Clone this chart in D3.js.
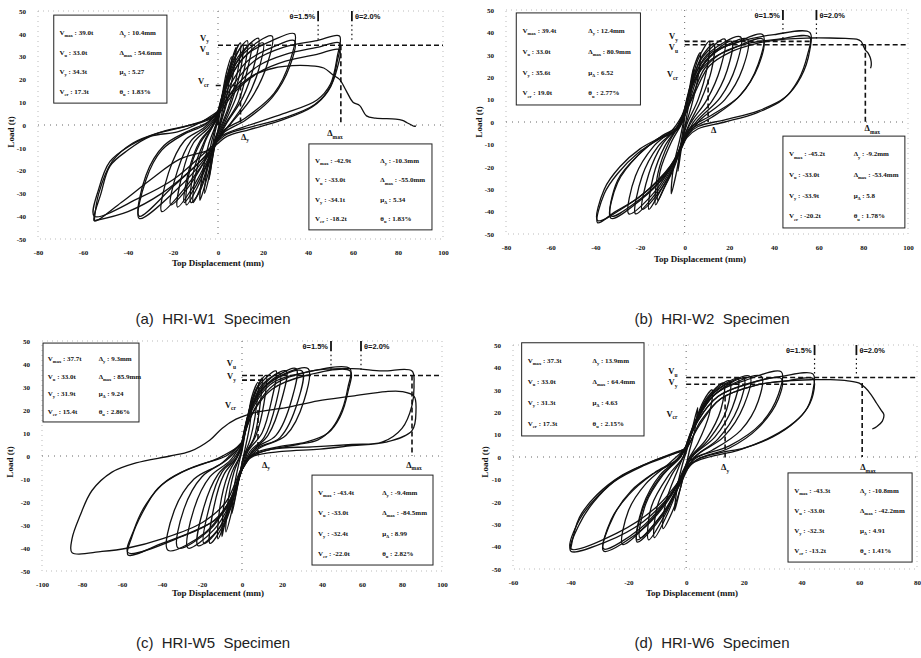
<!DOCTYPE html>
<html>
<head>
<meta charset="utf-8">
<script src="https://cdn.jsdelivr.net/npm/d3@7"></script>
<style>
  body { margin: 0; background: #fff; }
  svg text { font-family: "Liberation Serif", "Times New Roman", serif; fill: #111; }
</style>
</head>
<body>
<svg id="chart" width="921" height="658"></svg>
<script>
// tick labels
var xTicks80 = [-80, -60, -40, -20, 0, 20, 40, 60, 80, 100];
var xTicks100 = [-100, -80, -60, -40, -20, 0, 20, 40, 60, 80, 100];
var xTicks60 = [-60, -40, -20, 0, 20, 40, 60, 80];
var yTicks = [-50, -40, -30, -20, -10, 0, 10, 20, 30, 40, 50];

var captions = ["(a)  HRI-W1  Specimen", "(b)  HRI-W2  Specimen", "(c)  HRI-W5  Specimen", "(d)  HRI-W6  Specimen"];

// ---- HRI-W1 : cycles [displacement mm, load t] ----
var w1Cycles = [
  [[0,0],[2,12],[4,22],[3.2,14],[1.5,4],[0,-2],[-2,-12],[-4,-24],[-3.2,-15],[-1.5,-4],[0,2]],
  [[0,2],[2,14],[4,24],[6,30],[5,20],[3,8],[0,-3],[-2,-12],[-4,-23],[-6,-30],[-5,-20],[-3,-8],[0,3]],
  [[0,3],[3,17],[6,28],[8,34],[7,24],[4,10],[1,0],[-1,-6],[-3,-16],[-6,-27],[-8,-33],[-7,-22],[-4,-8],[-1,0],[0,3]],
  [[0,3],[3,16],[7,28],[11,35],[10,24],[6,10],[2,0],[-1,-6],[-4,-17],[-8,-29],[-12,-34],[-11,-21],[-6,-7],[-2,0],[0,3]],
  [[0,4],[3,17],[6,28],[10,36],[9,25],[6,12],[2,1],[-1,-5],[-4,-16],[-8,-28],[-11,-34],[-10,-22],[-6,-8],[-2,0],[0,4]],
  [[0,5],[3,17],[7,29],[13,37],[12,26],[8,12],[3,1],[0,-5],[-4,-15],[-9,-27],[-14,-35],[-13,-22],[-8,-8],[-3,-1],[0,5]],
  [[0,4],[3,15],[8,27],[15,36],[13,24],[9,10],[3,0],[0,-6],[-4,-15],[-10,-27],[-15,-34],[-13,-20],[-8,-7],[-3,-1],[0,4]],
  [[0,5],[4,19],[9,30],[18,38],[16,26],[11,12],[4,1],[0,-6],[-5,-16],[-11,-27],[-18,-36],[-16,-22],[-11,-8],[-4,-1],[0,5]],
  [[0,5],[4,17],[10,28],[20,36],[18,24],[12,10],[5,0],[0,-6],[-6,-16],[-13,-27],[-21,-35],[-18,-20],[-12,-7],[-5,-1],[0,5]],
  [[0,6],[4,19],[11,31],[24,39],[22,27],[15,12],[6,1],[0,-6],[-6,-16],[-15,-28],[-25,-38],[-22,-21],[-15,-7],[-6,-1],[0,6]],
  [[0,6],[5,20],[13,31],[24,37],[34,40],[32,28],[25,14],[12,3],[3,-2],[0,-6],[-6,-15],[-18,-28],[-35,-41],[-32,-24],[-25,-11],[-15,-4],[-6,0],[0,6]],
  [[0,5],[5,17],[13,28],[24,34],[34,37],[32,26],[24,12],[12,2],[3,-3],[0,-7],[-8,-16],[-20,-27],[-35,-40],[-32,-22],[-24,-9],[-14,-3],[-5,1],[0,5]],
  [[0,6],[7,18],[16,28],[29,34],[44,37],[54,39],[53,30],[50,18],[44,11],[29,5],[14,0],[4,-3.5],[0,-6],[-2,-10],[-17,-15],[-30,-24],[-43,-34],[-55,-42],[-52,-30],[-48,-18],[-40,-11],[-30,-5],[-18,-3],[-8,1],[0,6]],
  [[0,5],[8,17],[18,26],[30,31],[44,34],[54,36],[53,28],[50,17],[43,9],[29,3],[14,-1],[4,-4],[0,-7],[-8,-14],[-20,-24],[-35,-32],[-55,-40],[-53,-28],[-48,-16],[-39,-9],[-28,-4],[-16,-1],[-6,2],[0,5]],
  [[0,4],[8,15],[18,23],[30,28],[44,31],[54,33],[53,25],[49,15],[42,8],[28,2],[14,-2],[4,-5],[0,-8],[-10,-18],[-25,-30],[-40,-38],[-55,-42]]
];
var w1Final = [[-55,-42],[-53,-30],[-47,-16],[-38,-8],[-25,-3],[-12,0],[-3,3],[2,9],[8,16],[16,22],[25,25],[33,26],[40,26],[47,25],[51,22],[54,20],[57,15],[60,10],[63,8.5],[66,4],[70,3],[79,2.6],[82,2],[84,1],[86,0],[87,-0.5],[88,-0.5]];

// ---- HRI-W2 ----
var w2Cycles = [
  [[0,2],[2,12],[4,24],[3,14],[1,3],[0,-3],[-1.5,-12],[-3,-22],[-2,-12],[-0.5,-2],[0,2]],
  [[0,3],[2,14],[4,24],[7,31],[6,20],[3,7],[0,-3],[-2,-13],[-4,-24],[-6,-32],[-5,-20],[-2,-7],[0,3]],
  [[0,4],[3,17],[6,28],[11,36],[10,24],[6,10],[1,-1],[-1,-8],[-5,-20],[-9,-29],[-12,-35],[-11,-22],[-6,-9],[-1,0],[0,4]],
  [[0,3],[3,16],[7,28],[13,35],[12,23],[7,9],[2,-1],[-1,-9],[-5,-21],[-10,-31],[-13,-37],[-12,-23],[-7,-9],[-2,-1],[0,3]],
  [[0,5],[3,17],[8,29],[18,37],[16,24],[10,10],[3,0],[-1,-8],[-5,-20],[-11,-31],[-16,-39],[-14,-24],[-9,-11],[-3,-2],[0,5]],
  [[0,4],[4,17],[10,28],[21,36],[19,23],[12,9],[4,0],[0,-8],[-5,-20],[-12,-32],[-19,-39],[-16,-23],[-10,-10],[-3,-2],[0,4]],
  [[0,6],[4,19],[10,30],[25,38],[23,25],[16,11],[6,1],[0,-7],[-5,-19],[-13,-32],[-22,-41],[-19,-24],[-12,-11],[-4,-3],[0,6]],
  [[0,5],[4,18],[11,29],[28,37],[26,24],[18,10],[7,1],[0,-8],[-6,-20],[-15,-33],[-25,-41],[-22,-24],[-14,-11],[-5,-3],[0,5]],
  [[0,6],[4,20],[12,31],[22,35],[35,39],[33,26],[25,12],[12,3],[2,-3],[-1,-10],[-8,-23],[-20,-35],[-33,-43],[-30,-26],[-20,-14],[-10,-6],[-3,-2],[0,6]],
  [[0,5],[4,18],[12,28],[22,33],[35,37],[33,25],[24,11],[12,2],[2,-4],[-2,-12],[-10,-25],[-22,-36],[-33,-42],[-30,-27],[-21,-15],[-11,-7],[-3,-3],[0,5]],
  [[0,3],[3,12],[7.5,24],[15,32],[25,36],[40,39],[56,40],[56,32],[52,20],[45,11],[33,5],[18,1],[6,-2],[1.5,-5.5],[-1.5,-11.5],[-6,-19],[-12,-26],[-21,-34],[-31,-40],[-39,-45],[-36,-32],[-30,-23],[-21,-14],[-12,-8],[-4,-4],[0,3]],
  [[0,3],[4,13],[9,24],[17,31],[28,35],[42,37],[56,38],[55,30],[51,19],[44,10],[32,4],[18,0],[6,-3],[1,-7],[-2,-13],[-8,-22],[-16,-30],[-27,-38],[-39,-44],[-36,-30],[-29,-20],[-20,-12],[-11,-7],[-3,-3],[0,3]]
];
var w2Final = [[0,3],[5,14],[11,25],[20,31],[32,35],[45,37],[56,37.5],[65,37.5],[72,37.3],[77,37],[79,36],[80,34],[81,32],[82,31],[83,29],[83.5,27],[83.5,25],[83.2,24]];

// ---- HRI-W5 ----
var w5Cycles = [
  [[0,2],[2,12],[5,25],[4,14],[1.5,3],[0,-3],[-2,-12],[-5,-25],[-4,-14],[-1.5,-3],[0,2]],
  [[0,3],[3,17],[5,26],[8,32],[7,20],[4,7],[1,0],[-1,-8],[-4,-20],[-8,-33],[-7,-20],[-4,-7],[-1,0],[0,3]],
  [[0,4],[3,17],[7,28],[10,34],[9,22],[6,8],[1,0],[-1,-8],[-5,-21],[-9,-31],[-10,-35],[-9,-21],[-5,-7],[-1,0],[0,4]],
  [[0,4],[3,18],[7,29],[12,35],[11,23],[7,9],[2,1],[-1,-7],[-5,-20],[-9,-30],[-12,-36],[-11,-22],[-7,-8],[-2,0],[0,4]],
  [[0,5],[3,18],[8,30],[17,37],[15,25],[10,10],[3,2],[0,-6],[-5,-19],[-10,-31],[-16,-38],[-14,-22],[-9,-8],[-3,-1],[0,5]],
  [[0,5],[4,18],[9,29],[19,36],[17,23],[11,8],[4,2],[0,-6],[-5,-19],[-11,-31],[-19,-38],[-16,-21],[-10,-7],[-3,-1],[0,5]],
  [[0,5],[4,19],[10,31],[22,37],[20,25],[13,9],[5,2],[0,-6],[-5,-19],[-12,-32],[-22,-39],[-19,-22],[-12,-8],[-4,-1],[0,5]],
  [[0,6],[4,20],[12,31],[27,38],[25,25],[17,9],[6,3],[0,-6],[-5,-19],[-14,-32],[-27,-40],[-24,-23],[-16,-9],[-6,-2],[0,6]],
  [[0,5],[4,19],[11,30],[30,37],[28,24],[19,8],[7,3],[0,-6],[-6,-19],[-16,-32],[-32,-40],[-29,-23],[-20,-9],[-8,-2],[0,5]],
  [[0,6],[5,21],[14,32],[33,38],[31,24],[22,9],[8,3],[0,-6],[-6,-19],[-18,-33],[-37,-41],[-34,-24],[-24,-10],[-10,-3],[0,6]],
  [[0,6],[5,20],[14,31],[30,36],[54,38],[53,30],[50,20],[45,12],[38,7],[28,5],[15,3],[5,0],[0,-5],[-4,-17],[-12,-27],[-25,-33],[-40,-38],[-57,-43],[-55,-35],[-50,-25],[-42,-14],[-30,-7],[-18,-3],[-8,0],[0,6]],
  [[0,5],[5,18],[15,29],[32,35],[54,37],[53,28],[49,17],[43,10],[32,6],[18,4],[6,1],[0,-6],[-5,-18],[-14,-28],[-30,-35],[-57,-42],[-54,-32],[-48,-21],[-38,-11],[-25,-5],[-12,-1],[0,5]]
];
var w5Final = [[0,6],[6,20],[16,31],[35,37],[55,38],[70,37],[85,37],[86,31],[85,22],[80,12],[70,6],[55,5],[35,4],[15,3],[5,0],[0,-5],[-8,-20],[-20,-29],[-40,-36],[-57,-40],[-70,-41.5],[-85,-42],[-85,-36],[-81,-26],[-75,-15],[-65,-7],[-53,-3],[-36,0],[-26,2],[-16,7],[-10,12],[-3,16],[7,19],[22,21],[38,24],[55,26],[72,28],[80,28],[86,26],[87,20],[85,11],[72,6],[55,4.5],[39,3],[20,2],[6,0],[0,-4]];

// ---- HRI-W6 ----
var w6Cycles = [
  [[0,2],[2,12],[4,22],[3,12],[1,2],[0,-4],[-2,-14],[-4,-24],[-3,-13],[-1,-2],[0,2]],
  [[0,3],[3,15],[6,25],[9,30],[8,19],[4,6],[0,-3],[-2,-14],[-5,-25],[-8,-32],[-7,-20],[-3,-6],[0,3]],
  [[0,4],[3,15],[7,26],[13,33],[12,21],[7,8],[1,-1],[-2,-11],[-6,-24],[-11,-36],[-10,-22],[-5,-8],[-1,0],[0,4]],
  [[0,4],[3,15],[8,27],[15,34],[14,21],[8,8],[2,0],[-2,-11],[-7,-25],[-13,-37],[-12,-22],[-6,-8],[-1,0],[0,4]],
  [[0,5],[4,17],[9,28],[18,35],[16,22],[10,9],[2,0],[-2,-11],[-8,-26],[-17,-38],[-15,-23],[-9,-9],[-2,0],[0,5]],
  [[0,5],[4,17],[10,28],[20,35],[18,22],[11,8],[3,0],[-2,-12],[-8,-25],[-16,-36],[-14,-21],[-8,-8],[-2,0],[0,5]],
  [[0,5],[4,18],[10,29],[22,36],[20,23],[13,9],[3,0],[-2,-11],[-8,-25],[-17,-37],[-15,-22],[-9,-8],[-2,0],[0,5]],
  [[0,4],[4,17],[10,28],[26,36],[25,25],[19,12],[9,3],[1,-2],[-4,-14],[-12,-28],[-22,-39],[-20,-24],[-14,-12],[-6,-3],[0,4]],
  [[0,5],[4,18],[11,29],[20,34],[33,38],[32,28],[26,15],[15,5],[4,0],[0,-5],[-5,-17],[-14,-31],[-28.6,-42],[-26,-28],[-20,-17],[-12,-8],[-4,-2],[0,5]],
  [[0,4],[4,16],[11,27],[20,32],[33,35],[32,26],[25,13],[15,4],[4,-1],[0,-6],[-6,-18],[-16,-32],[-28.6,-41],[-25,-26],[-19,-15],[-11,-7],[-3,-1],[0,4]],
  [[0,4],[4,16],[11,27],[22,33],[33,36],[44,37],[44,30],[42,22],[38,16],[30,9],[20,4],[12,2],[4,-1],[0,-5],[-5,-16],[-15,-29],[-28,-38],[-40,-42],[-37,-30],[-32,-20],[-25,-11],[-15,-4],[-5,1],[0,4]],
  [[0,3],[5,15],[12,26],[24,32],[35,34],[44,35],[44,28],[41,20],[36,14],[28,8],[18,3],[8,0],[2,-3],[-2,-10],[-10,-22],[-24,-34],[-40,-41],[-37,-28],[-31,-18],[-23,-9],[-12,-2],[-3,2],[0,3]]
];
var w6Final = [[-40,-41],[-37,-27],[-31,-17],[-22,-8],[-12,-2],[-4,2],[0,4],[5,16],[12,26],[24,32],[35,34],[44,34.5],[50,34.5],[56,34],[60,33],[62,31],[64,28],[66,24],[67.5,21],[68.5,19],[68,16],[66,13.5],[64.5,12.5]];

// ---- summary boxes (positive / negative side) ----
var w1InfoPos = [["V_max : 39.0t", "Δ_y : 10.4mm"], ["V_u : 33.0t", "Δ_max : 54.6mm"], ["V_y : 34.3t", "μ_Δ : 5.27"], ["V_cr : 17.3t", "θ_u : 1.83%"]];
var w1InfoNeg = [["V_max : -42.9t", "Δ_y : -10.3mm"], ["V_u : -33.0t", "Δ_max : -55.0mm"], ["V_y : -34.1t", "μ_Δ : 5.34"], ["V_cr : -18.2t", "θ_u : 1.83%"]];
var w2InfoPos = [["V_max : 39.4t", "Δ_y : 12.4mm"], ["V_u : 33.0t", "Δ_max : 80.9mm"], ["V_y : 35.6t", "μ_Δ : 6.52"], ["V_cr : 19.0t", "θ_u : 2.77%"]];
var w2InfoNeg = [["V_max : -45.2t", "Δ_y : -9.2mm"], ["V_u : -33.0t", "Δ_max : -53.4mm"], ["V_y : -33.9t", "μ_Δ : 5.8"], ["V_cr : -20.2t", "θ_u : 1.78%"]];
var w5InfoPos = [["V_max : 37.7t", "Δ_y : 9.3mm"], ["V_u : 33.0t", "Δ_max : 85.9mm"], ["V_y : 31.9t", "μ_Δ : 9.24"], ["V_cr : 15.4t", "θ_u : 2.86%"]];
var w5InfoNeg = [["V_max : -43.4t", "Δ_y : -9.4mm"], ["V_u : -33.0t", "Δ_max : -84.5mm"], ["V_y : -32.4t", "μ_Δ : 8.99"], ["V_cr : -22.0t", "θ_u : 2.82%"]];
var w6InfoPos = [["V_max : 37.3t", "Δ_y : 13.9mm"], ["V_u : 33.0t", "Δ_max : 64.4mm"], ["V_y : 31.3t", "μ_Δ : 4.63"], ["V_cr : 17.3t", "θ_u : 2.15%"]];
var w6InfoNeg = [["V_max : -43.3t", "Δ_y : -10.8mm"], ["V_u : -33.0t", "Δ_max : -42.2mm"], ["V_y : -32.3t", "μ_Δ : 4.91"], ["V_cr : -13.2t", "θ_u : 1.41%"]];

// drift ratio markers [displacement, label]
var w1Drift = [[44.5, "θ=1.5%"], [59.5, "θ=2.0%"]];
var w2Drift = [[44, "θ=1.5%"], [59, "θ=2.0%"]];
var w5Drift = [[44.5, "θ=1.5%"], [59.5, "θ=2.0%"]];
var w6Drift = [[44.5, "θ=1.5%"], [59, "θ=2.0%"]];

// dashed guide lines: horizontal [load, x from, x to], vertical [disp, y from, y to]
var w1HLines = [[35, 0, 100], [17.3, -1, 10]];
var w1VLines = [[54.6, 35, 0], [10, 17.3, 0]];
var w2HLines = [[36, 0, 56], [34.5, 0, 100]];
var w2VLines = [[80.9, 34.5, 0], [10.5, 19, 0]];
var w5HLines = [[35, 0, 100], [33, 0, 12]];
var w5VLines = [[85, 35, 0], [8, 20, 0]];
var w6HLines = [[35.5, 0, 80], [32.5, 0, 44]];
var w6VLines = [[61, 33, 0], [13.5, 27, -1]];

// text labels on the curves [x, y, text]
var w1Marks = [[-4, 37, "V_y"], [-4, 32, "V_u"], [-4, 18, "V_cr"], [12, -6.5, "Δ_y"], [52, -5, "Δ_max"]];
var w2Marks = [[-3, 37, "V_y"], [-3, 32, "V_u"], [-3, 20, "V_cr"], [13, -5, "Δ"], [84, -4, "Δ_max"]];
var w5Marks = [[-3, 39, "V_u"], [-3, 33.5, "V_y"], [-3, 21, "V_cr"], [12, -5, "Δ_y"], [86, -5, "Δ_max"]];
var w6Marks = [[-3, 37, "V_u"], [-3, 32, "V_y"], [-3, 18, "V_cr"], [13.5, -6, "Δ_y"], [63, -6, "Δ_max"]];

// ---- layout ----
var panels = [
  { caption: captions[0], xDomain: [-80, 100], xRange: [38, 443], yRange: [239, 11], xTicks: xTicks80,
    cycles: w1Cycles, final: w1Final, infoPos: w1InfoPos, infoNeg: w1InfoNeg, drift: w1Drift,
    hLines: w1HLines, vLines: w1VLines, marks: w1Marks,
    boxPos: [-73, 48.2, -22.7, 9.6], boxNeg: [40.4, -8.3, 95.1, -46],
    yTitle: [14, 132], xTitle: [218, 266], capPos: [213, 324] },
  { caption: captions[1], xDomain: [-80, 100], xRange: [506, 908], yRange: [234, 10], xTicks: xTicks80,
    cycles: w2Cycles, final: w2Final, infoPos: w2InfoPos, infoNeg: w2InfoNeg, drift: w2Drift,
    hLines: w2HLines, vLines: w2VLines, marks: w2Marks,
    boxPos: [-75.4, 48.7, -19.8, 7.6], boxNeg: [44, -6.3, 98.6, -47.3],
    yTitle: [482, 122], xTitle: [700, 262], capPos: [712, 324] },
  { caption: captions[2], xDomain: [-100, 100], xRange: [42, 442], yRange: [571, 341], xTicks: xTicks100,
    cycles: w5Cycles, final: w5Final, infoPos: w5InfoPos, infoNeg: w5InfoNeg, drift: w5Drift,
    hLines: w5HLines, vLines: w5VLines, marks: w5Marks,
    boxPos: [-99.5, 49.1, -51.5, 14.8], boxNeg: [35, -8.3, 95.5, -47.4],
    yTitle: [13, 462], xTitle: [218, 596], capPos: [213, 648] },
  { caption: captions[3], xDomain: [-60, 80], xRange: [513, 917], yRange: [569, 345], xTicks: xTicks60,
    cycles: w6Cycles, final: w6Final, infoPos: w6InfoPos, infoNeg: w6InfoNeg, drift: w6Drift,
    hLines: w6HLines, vLines: w6VLines, marks: w6Marks,
    boxPos: [-57, 51, -14.6, 9.4], boxNeg: [35.3, -7.1, 78.3, -46.9],
    yTitle: [488, 462], xTitle: [692, 596], capPos: [712, 648] }
];

var svg = d3.select("#chart");

// writes "V_max : 39.0t" as V with subscript max
function richText(sel, str, size) {
  var m = str.match(/^([^_]+)_(\S+)(.*)$/);
  sel.style("font-size", size + "px").style("font-weight", "bold");
  if (!m) { sel.text(str); return; }
  sel.append("tspan").text(m[1]);
  sel.append("tspan").attr("dy", size * 0.3).style("font-size", (size * 0.65) + "px").text(m[2]);
  if (m[3]) sel.append("tspan").attr("dy", -size * 0.3).text(m[3]);
}

panels.forEach(drawPanel);

function drawPanel(p) {
  var x = d3.scaleLinear().domain(p.xDomain).range(p.xRange);
  var y = d3.scaleLinear().domain([-50, 50]).range(p.yRange);
  var g = svg.append("g");

  // dotted frame and zero lines
  g.append("rect")
    .attr("x", x(p.xDomain[0])).attr("y", y(50))
    .attr("width", x(p.xDomain[1]) - x(p.xDomain[0]))
    .attr("height", y(-50) - y(50))
    .attr("fill", "none").attr("stroke", "#aaa")
    .attr("stroke-width", 0.8).attr("stroke-dasharray", "1,4");
  g.append("line")
    .attr("x1", x(p.xDomain[0])).attr("x2", x(p.xDomain[1]))
    .attr("y1", y(0)).attr("y2", y(0))
    .attr("stroke", "#555").attr("stroke-width", 0.9).attr("stroke-dasharray", "1,5");
  g.append("line")
    .attr("x1", x(0)).attr("x2", x(0))
    .attr("y1", y(50)).attr("y2", y(-50))
    .attr("stroke", "#555").attr("stroke-width", 0.9).attr("stroke-dasharray", "1,5");

  // tick labels only
  var fmt = function(d) { return String(d); };
  var ax = g.append("g")
    .attr("transform", "translate(0," + (y(-50) + 13) + ")")
    .call(d3.axisBottom(x).tickValues(p.xTicks).tickSize(0).tickFormat(fmt));
  var ay = g.append("g")
    .attr("transform", "translate(" + (x(p.xDomain[0]) - 9) + ",0)")
    .call(d3.axisLeft(y).tickValues(yTicks).tickSize(0).tickFormat(fmt));
  [ax, ay].forEach(function(a) {
    a.select(".domain").remove();
    a.selectAll("text")
      .attr("font-family", "Liberation Serif, serif")
      .style("font-size", "7px").style("font-weight", "bold").attr("fill", "#111");
  });
  ax.selectAll("text").attr("dy", 0);

  // axis titles
  g.append("text")
    .attr("transform", "translate(" + p.yTitle[0] + "," + p.yTitle[1] + ") rotate(-90)")
    .attr("text-anchor", "middle")
    .style("font-size", "9px").style("font-weight", "bold")
    .text("Load (t)");
  g.append("text")
    .attr("x", p.xTitle[0]).attr("y", p.xTitle[1])
    .attr("text-anchor", "middle")
    .style("font-size", "9px").style("font-weight", "bold")
    .text("Top Displacement (mm)");

  // hysteresis loops
  var line = d3.line()
    .x(function(d) { return x(d[0]); })
    .y(function(d) { return y(d[1]); })
    .curve(d3.curveCatmullRom.alpha(0.5));

  g.selectAll(".loop")
    .data(p.cycles.concat([p.final]))
    .enter().append("path")
    .attr("class", "loop")
    .attr("d", line)
    .attr("fill", "none")
    .attr("stroke", "#111")
    .attr("stroke-width", 1.3);

  // dashed guides
  p.hLines.forEach(function(h) {
    g.append("line")
      .attr("x1", x(h[1])).attr("x2", x(h[2])).attr("y1", y(h[0])).attr("y2", y(h[0]))
      .attr("stroke", "#111").attr("stroke-width", 1.6).attr("stroke-dasharray", "5,3");
  });
  p.vLines.forEach(function(v) {
    g.append("line")
      .attr("x1", x(v[0])).attr("x2", x(v[0])).attr("y1", y(v[1])).attr("y2", y(v[2]))
      .attr("stroke", "#111").attr("stroke-width", 1.6).attr("stroke-dasharray", "5,3");
  });

  // drift ratio markers
  p.drift.forEach(function(d, i) {
    g.append("line")
      .attr("x1", x(d[0])).attr("x2", x(d[0])).attr("y1", y(50)).attr("y2", y(45.5))
      .attr("stroke", "#111").attr("stroke-width", 1.8);
    g.append("line")
      .attr("x1", x(d[0])).attr("x2", x(d[0])).attr("y1", y(44)).attr("y2", y(37))
      .attr("stroke", "#111").attr("stroke-width", 1.2).attr("stroke-dasharray", "1.5,3");
    g.append("text")
      .attr("x", x(d[0]) + (i === 0 ? -3 : 3)).attr("y", y(46.5))
      .attr("text-anchor", i === 0 ? "end" : "start")
      .style("font-family", "Liberation Sans, Arial, sans-serif")
      .style("font-size", "7.5px").style("font-weight", "bold")
      .text(d[1]);
  });

  // labels on curves
  p.marks.forEach(function(m) {
    var t = g.append("text")
      .attr("x", x(m[0])).attr("y", y(m[1]))
      .attr("text-anchor", m[0] < 0 ? "end" : "middle");
    richText(t, m[2], 8.5);
  });

  // summary boxes
  drawBox(g, x, y, p.boxPos, p.infoPos);
  drawBox(g, x, y, p.boxNeg, p.infoNeg);

  // caption
  svg.append("text")
    .attr("x", p.capPos[0]).attr("y", p.capPos[1])
    .attr("text-anchor", "middle")
    .style("font-family", "Liberation Sans, Arial, sans-serif")
    .style("font-size", "15px").style("fill", "#222")
    .attr("xml:space", "preserve")
    .text(p.caption);
}

function drawBox(g, x, y, b, rows) {
  var x0 = x(b[0]), y0 = y(b[1]), w = x(b[2]) - x0, h = y(b[3]) - y0;
  var box = g.append("g");
  box.append("rect")
    .attr("x", x0).attr("y", y0).attr("width", w).attr("height", h)
    .attr("fill", "#fff").attr("stroke", "#222").attr("stroke-width", 1);
  rows.forEach(function(r, i) {
    var yy = y0 + h * (0.2 + 0.225 * i) + 2;
    richText(box.append("text").attr("x", x0 + w * 0.05).attr("y", yy), r[0], 7);
    richText(box.append("text").attr("x", x0 + w * 0.58).attr("y", yy), r[1], 7);
  });
}
</script>
</body>
</html>
